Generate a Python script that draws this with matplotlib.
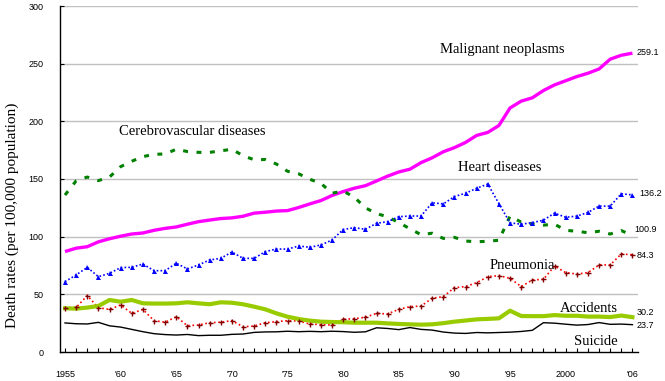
import matplotlib
matplotlib.use("Agg")
import matplotlib.pyplot as plt
from matplotlib.ticker import MultipleLocator, FixedLocator

years = list(range(1955, 2007))

malignant = [87.1, 90.0, 91.3, 95.5, 98.2, 100.4, 102.3, 103.2, 105.5, 107.2,
             108.4, 110.8, 113.0, 114.4, 115.7, 116.3, 117.7, 120.4, 121.2, 122.2,
             122.6, 125.3, 128.4, 131.3, 135.7, 139.1, 142.0, 144.2, 148.3, 152.5,
             156.1, 158.5, 164.2, 168.4, 173.6, 177.2, 181.7, 187.8, 190.4, 196.4,
             211.6, 217.5, 220.4, 226.7, 231.6, 235.2, 238.8, 241.7, 245.4, 253.9,
             257.3, 259.1]

heart = [61.0, 66.8, 73.4, 65.3, 68.2, 73.2, 73.4, 76.3, 70.5, 70.5,
         77.0, 72.0, 75.5, 79.8, 81.2, 86.7, 81.2, 81.2, 87.0, 89.3,
         89.2, 91.9, 90.8, 92.8, 97.1, 106.2, 107.8, 106.4, 111.6, 113.0,
         117.3, 117.9, 117.9, 129.4, 128.4, 134.8, 137.6, 142.0, 145.6, 128.6,
         112.0, 110.8, 112.2, 114.3, 120.4, 116.8, 117.8, 121.0, 126.5, 126.5,
         137.2, 136.2]

cerebro = [136.1, 148.4, 151.7, 148.6, 151.7, 160.7, 165.4, 169.4, 171.4, 171.7,
           175.8, 173.8, 173.1, 173.1, 174.4, 175.8, 170.2, 166.7, 166.9, 163.0,
           156.7, 154.5, 149.8, 146.2, 137.7, 139.5, 134.3, 125.0, 120.0, 117.2,
           112.2, 106.9, 101.7, 103.0, 98.5, 99.4, 96.2, 95.6, 96.0, 96.9,
           117.9, 112.6, 111.0, 110.0, 110.8, 105.5, 104.7, 103.4, 104.7, 102.3,
           105.3, 100.9]

pneumonia = [38.4, 38.6, 48.9, 38.4, 36.9, 40.8, 33.5, 36.9, 27.2, 25.8,
             30.6, 22.8, 23.4, 25.4, 25.8, 27.2, 21.9, 22.5, 25.4, 26.3,
             27.2, 26.9, 24.3, 23.7, 23.4, 28.3, 28.9, 30.1, 33.5, 33.0,
             37.0, 39.3, 39.8, 46.6, 48.0, 55.8, 56.7, 60.1, 65.3, 66.2,
             63.9, 56.7, 62.4, 63.0, 74.6, 68.8, 67.6, 68.8, 75.5, 75.5,
             85.0, 84.3]

accidents = [37.9, 37.6, 38.5, 39.9, 45.1, 43.6, 45.1, 42.2, 42.0, 42.0,
             42.2, 43.1, 42.2, 41.4, 43.1, 42.7, 41.4, 39.3, 37.0, 33.5,
             30.6, 28.6, 27.2, 26.3, 26.0, 25.8, 25.4, 25.4, 25.4, 24.8,
             24.3, 24.0, 23.7, 24.0, 25.0, 26.3, 27.3, 28.3, 28.7, 29.2,
             35.8, 31.2, 31.1, 31.1, 32.0, 31.4, 31.4, 30.7, 30.7, 30.3,
             31.6, 30.2]

suicide = [25.2, 24.5, 24.3, 25.7, 22.7, 21.6, 19.6, 17.6, 15.9, 15.1,
           14.7, 15.2, 14.2, 14.5, 14.5, 15.3, 15.6, 17.0, 17.4, 17.5,
           18.0, 17.6, 17.9, 17.6, 18.0, 17.7, 17.1, 17.5, 21.0, 20.4,
           19.4, 21.2, 19.6, 19.0, 17.3, 16.4, 16.1, 16.9, 16.6, 16.9,
           17.2, 17.8, 18.8, 25.4, 25.0, 24.1, 23.3, 23.8, 25.5, 24.0,
           24.2, 23.7]

xtick_pos = [1955, 1960, 1965, 1970, 1975, 1980, 1985, 1990, 1995, 2000, 2006]
xtick_labels = ["1955", "'60", "'65", "'70", "'75", "'80", "'85", "'90", "'95", "2000", "'06"]
yticks = [0, 50, 100, 150, 200, 250, 300]

serif = "Liberation Serif"
sans = "Liberation Sans"

fig = plt.figure(figsize=(6.65, 3.81), dpi=100)
ax = fig.add_axes([60/665, 1-352/381, 578/665, 346/381])

for y in yticks[1:]:
    ax.axhline(y, color="#C0C0C0", lw=1.0, zorder=0)

ax.plot(years, malignant, color="#FF00FF", lw=2.4, solid_capstyle="butt", zorder=3)
ax.plot(years, cerebro, color="#008000", lw=2.2, dashes=(1.6, 2.8), zorder=3)
ax.plot(years, heart, color="#0000FF", lw=1.2, linestyle=(0, (1, 1.3)),
        marker="^", markersize=3.6, markeredgewidth=0, zorder=4)
ax.plot(years, pneumonia, color="#FF0000", lw=1.2, linestyle=(0, (1, 1.6)), zorder=3)
ax.plot(years, pneumonia, linestyle="none", marker="+", color="#800000",
        markersize=3.6, markeredgewidth=1.0, zorder=4)
ax.plot(years, accidents, color="#99CC00", lw=3.0, zorder=3)
ax.plot(years, suicide, color="#000000", lw=1.0, zorder=3)

ax.set_xlim(1954.55, 2006.5)
ax.set_ylim(0, 300)
ax.set_xticks(xtick_pos)
ax.set_xticklabels(xtick_labels, fontfamily=sans, fontsize=6.5)
ax.xaxis.set_minor_locator(MultipleLocator(1))
ax.tick_params(axis="x", which="both", direction="in", length=3, width=0.8, pad=13)
ax.set_yticks(yticks)
ax.set_yticklabels([str(v) for v in yticks], fontfamily=sans, fontsize=6.5)
ax.tick_params(axis="y", direction="in", length=3, width=0.8, pad=12)

for s in ["top", "right"]:
    ax.spines[s].set_visible(False)
ax.spines["left"].set_linewidth(1.0)
ax.spines["bottom"].set_linewidth(1.0)

fig.text(12/665, 1-215/381, "Death rates (per 100,000 population)", rotation=90,
         ha="center", va="center", fontfamily=serif, fontsize=11)

lab = dict(fontfamily=serif, fontsize=10.5, ha="center", va="center", zorder=5)
ax.text(1994.3, 262, "Malignant neoplasms", **lab)
ax.text(1966.4, 191, "Cerebrovascular diseases", **lab)
ax.text(1994.1, 160, "Heart diseases", **lab)
ax.text(1996.1, 74.6, "Pneumonia", **lab)
ax.text(2002.1, 37.9, "Accidents", **lab)
ax.text(2002.7, 9.5, "Suicide", **lab)

vl = dict(fontfamily=sans, fontsize=6.5, ha="left", va="center", clip_on=False)
ax.text(2006.4, 259.6, "259.1", **vl)
ax.text(2006.6, 137.6, "136.2", **vl)
ax.text(2006.2, 105.8, "100.9", **vl)
ax.text(2006.4, 83.3, "84.3", **vl)
ax.text(2006.4, 34.0, "30.2", **vl)
ax.text(2006.4, 23.4, "23.7", **vl)

fig.savefig("out.png", dpi=100)
